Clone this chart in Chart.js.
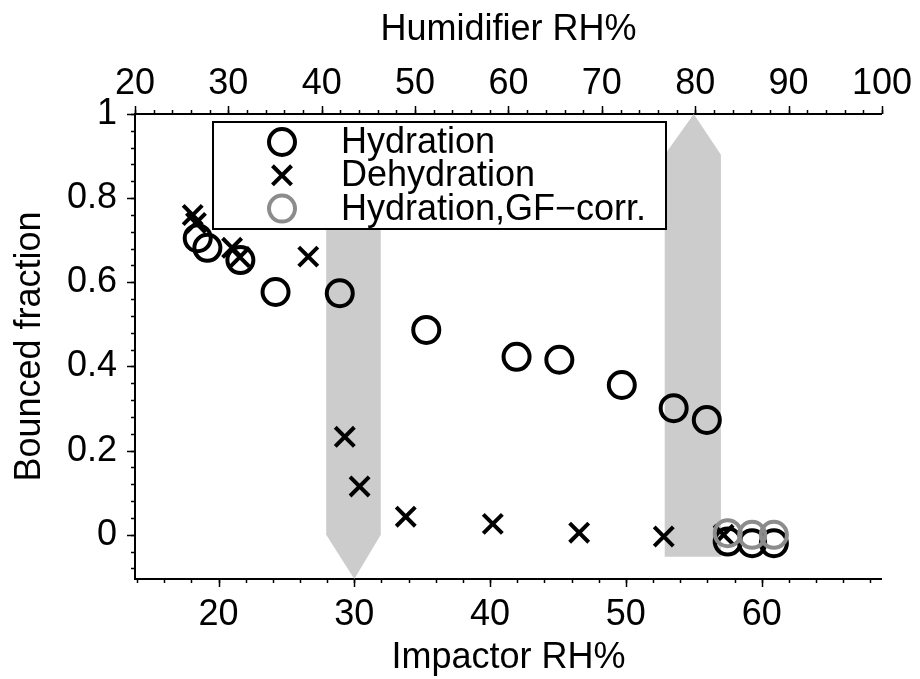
<!DOCTYPE html>
<html>
<head>
<meta charset="utf-8">
<script src="https://cdn.jsdelivr.net/npm/chart.js@4/dist/chart.umd.min.js"></script>
<style>
  html, body { margin: 0; padding: 0; background: #fff; }
</style>
</head>
<body>
<canvas id="bounceChart" width="920" height="679"></canvas>
<script>
// Hydration (black circles)
const hydX = [18.47, 19.18, 21.61, 24.2, 28.93, 35.3, 41.95, 45.1, 49.7, 53.52, 55.96, 57.5, 59.3, 60.9];
const hydY = [0.705, 0.682, 0.653, 0.577, 0.574, 0.487, 0.423, 0.416, 0.356, 0.301, 0.273, -0.016, -0.02, -0.02];
// Dehydration (crosses)
const dehX = [18.1, 18.34, 21.0, 21.57, 26.61, 29.3, 30.39, 33.79, 40.2, 46.56, 52.79, 57.2];
const dehY = [0.76, 0.741, 0.682, 0.66, 0.661, 0.233, 0.115, 0.043, 0.026, 0.005, -0.004, 0.0];
// Hydration, GF-corrected (grey circles)
const gfX = [57.5, 59.3, 60.9];
const gfY = [0.004, 0.0, 0.0];

// shaded arrows, outline in data units (impactor RH%, bounced fraction)
const arrowDownX = [27.93, 31.95, 31.95, 30.0, 27.93];
const arrowDownY = [0.9, 0.9, 0.0, -0.105, 0.0];
const arrowUpX = [52.86, 52.86, 55.0, 57.0, 57.0];
const arrowUpY = [-0.052, 0.903, 1.0, 0.903, -0.052];

// axis ticks
const bottomTicks = [20, 30, 40, 50, 60];
const topTicks = [20, 30, 40, 50, 60, 70, 80, 90, 100];
const yTicks = [0, 0.2, 0.4, 0.6, 0.8, 1];

const pts = (xs, ys) => xs.map((x, i) => ({ x: x, y: ys[i] }));

Chart.defaults.font.family = "'Liberation Sans', Arial, sans-serif";
Chart.defaults.font.size = 36;
Chart.defaults.color = '#000';

const grey = '#cccccc';

// gray arrows under the markers
const arrowPlugin = {
    id: 'arrows',
    beforeDatasetsDraw(chart) {
        const { ctx, scales } = chart;
        const shape = (xs, ys) => {
            ctx.beginPath();
            xs.forEach((x, i) => {
                const px = scales.x.getPixelForValue(x);
                const py = scales.y.getPixelForValue(ys[i]);
                if (i === 0) ctx.moveTo(px, py); else ctx.lineTo(px, py);
            });
            ctx.closePath();
            ctx.fill();
        };
        ctx.save();
        ctx.fillStyle = grey;
        shape(arrowDownX, arrowDownY);
        shape(arrowUpX, arrowUpY);
        ctx.restore();
    }
};

// outward major + minor tick marks
const tickPlugin = {
    id: 'outerTicks',
    afterDraw(chart) {
        const { ctx, chartArea: a, scales } = chart;
        ctx.save();
        ctx.strokeStyle = '#000';
        ctx.lineWidth = 1.5;
        const mark = (id, v, len) => {
            const s = scales[id];
            const p = Math.round(s.getPixelForValue(v)) + 0.5;
            ctx.beginPath();
            if (id === 'x') { ctx.moveTo(p, a.bottom); ctx.lineTo(p, a.bottom + len); }
            else if (id === 'x2') { ctx.moveTo(p, a.top); ctx.lineTo(p, a.top - len); }
            else { ctx.moveTo(a.left, p); ctx.lineTo(a.left - len, p); }
            ctx.stroke();
        };
        const minor = (id, step) => {
            const s = scales[id];
            for (let k = Math.ceil(s.min / step); k * step <= s.max + 1e-9; k++) mark(id, k * step, 4);
        };
        minor('x', 2);
        minor('x2', 2);
        minor('y', 0.04);
        bottomTicks.forEach(v => mark('x', v, 8));
        topTicks.forEach(v => mark('x2', v, 8));
        yTicks.forEach(v => mark('y', v, 8));
        ctx.restore();
    }
};

// boxed legend inside the plot
const legendPlugin = {
    id: 'boxLegend',
    afterDatasetsDraw(chart) {
        const { ctx, chartArea: a } = chart;
        const bx = a.left + 78, by = a.top + 8, bw = 453, bh = 107;
        ctx.save();
        ctx.fillStyle = '#fff';
        ctx.fillRect(bx, by, bw, bh);
        ctx.strokeStyle = '#000';
        ctx.lineWidth = 2;
        ctx.strokeRect(bx, by, bw, bh);
        chart.data.datasets.forEach((ds, row) => {
            const cx = bx + 69, cy = by + 20 + row * 33.3;
            ctx.strokeStyle = ds.borderColor;
            ctx.lineWidth = ds.borderWidth;
            ctx.beginPath();
            if (ds.pointStyle === 'crossRot') {
                const d = ds.pointRadius * Math.SQRT1_2;
                ctx.moveTo(cx - d, cy - d); ctx.lineTo(cx + d, cy + d);
                ctx.moveTo(cx - d, cy + d); ctx.lineTo(cx + d, cy - d);
            } else {
                ctx.arc(cx, cy, ds.pointRadius, 0, Math.PI * 2);
            }
            ctx.stroke();
            ctx.fillStyle = '#000';
            ctx.font = "36px 'Liberation Sans', Arial, sans-serif";
            ctx.textBaseline = 'middle';
            ctx.fillText(ds.label, bx + 128, cy + 1);
        });
        ctx.restore();
    }
};

const tickFmt = v => String(+Number(v).toFixed(2));

new Chart(document.getElementById('bounceChart'), {
    type: 'scatter',
    data: {
        datasets: [{
            label: 'Hydration',
            data: pts(hydX, hydY),
            pointStyle: 'circle',
            pointRadius: 13,
            borderWidth: 4,
            borderColor: '#000',
            backgroundColor: 'rgba(0,0,0,0)',
            order: 3
        }, {
            label: 'Dehydration',
            data: pts(dehX, dehY),
            pointStyle: 'crossRot',
            pointRadius: 13.5,
            borderWidth: 4,
            borderColor: '#000',
            backgroundColor: '#000',
            order: 2
        }, {
            label: 'Hydration,GF\u2212corr.',
            data: pts(gfX, gfY),
            pointStyle: 'circle',
            pointRadius: 13,
            borderWidth: 4,
            borderColor: '#8c8c8c',
            backgroundColor: 'rgba(0,0,0,0)',
            order: 1
        }]
    },
    options: {
        responsive: false,
        animation: false,
        events: [],
        layout: { padding: { left: 0, right: 34, top: 0, bottom: 0 } },
        plugins: { legend: { display: false }, tooltip: { enabled: false } },
        scales: {
            x: {
                type: 'linear', position: 'bottom', min: 13.85, max: 68.86,
                afterBuildTicks: s => { s.ticks = bottomTicks.map(v => ({ value: v })); },
                afterFit: s => { s.height = 100; },
                grid: { drawOnChartArea: false, drawTicks: false },
                border: { color: '#000', width: 2 },
                ticks: { padding: 14, maxRotation: 0, autoSkip: false, callback: tickFmt },
                title: { display: true, text: 'Impactor RH%', font: { size: 36, lineHeight: 1 }, padding: { top: 0, bottom: 3 } }
            },
            x2: {
                type: 'linear', position: 'top', min: 20, max: 100,
                afterBuildTicks: s => { s.ticks = topTicks.map(v => ({ value: v })); },
                afterFit: s => { s.height = 114; },
                grid: { drawOnChartArea: false, drawTicks: false },
                border: { color: '#000', width: 2 },
                ticks: { padding: 8, maxRotation: 0, autoSkip: false, callback: tickFmt },
                title: { display: true, text: 'Humidifier RH%', font: { size: 36, lineHeight: 1 }, padding: { top: 12, bottom: 0 } }
            },
            y: {
                type: 'linear', position: 'left', min: -0.105, max: 1,
                afterBuildTicks: s => { s.ticks = yTicks.map(v => ({ value: v })); },
                afterFit: s => { s.width = 135; },
                grid: { drawOnChartArea: false, drawTicks: false },
                border: { color: '#000', width: 2 },
                ticks: { padding: 18, autoSkip: false, callback: tickFmt },
                title: { display: true, text: 'Bounced fraction', font: { size: 36, lineHeight: 1 }, padding: { top: 12, bottom: 0 } }
            }
        }
    },
    plugins: [arrowPlugin, legendPlugin, tickPlugin]
});
</script>
</body>
</html>
